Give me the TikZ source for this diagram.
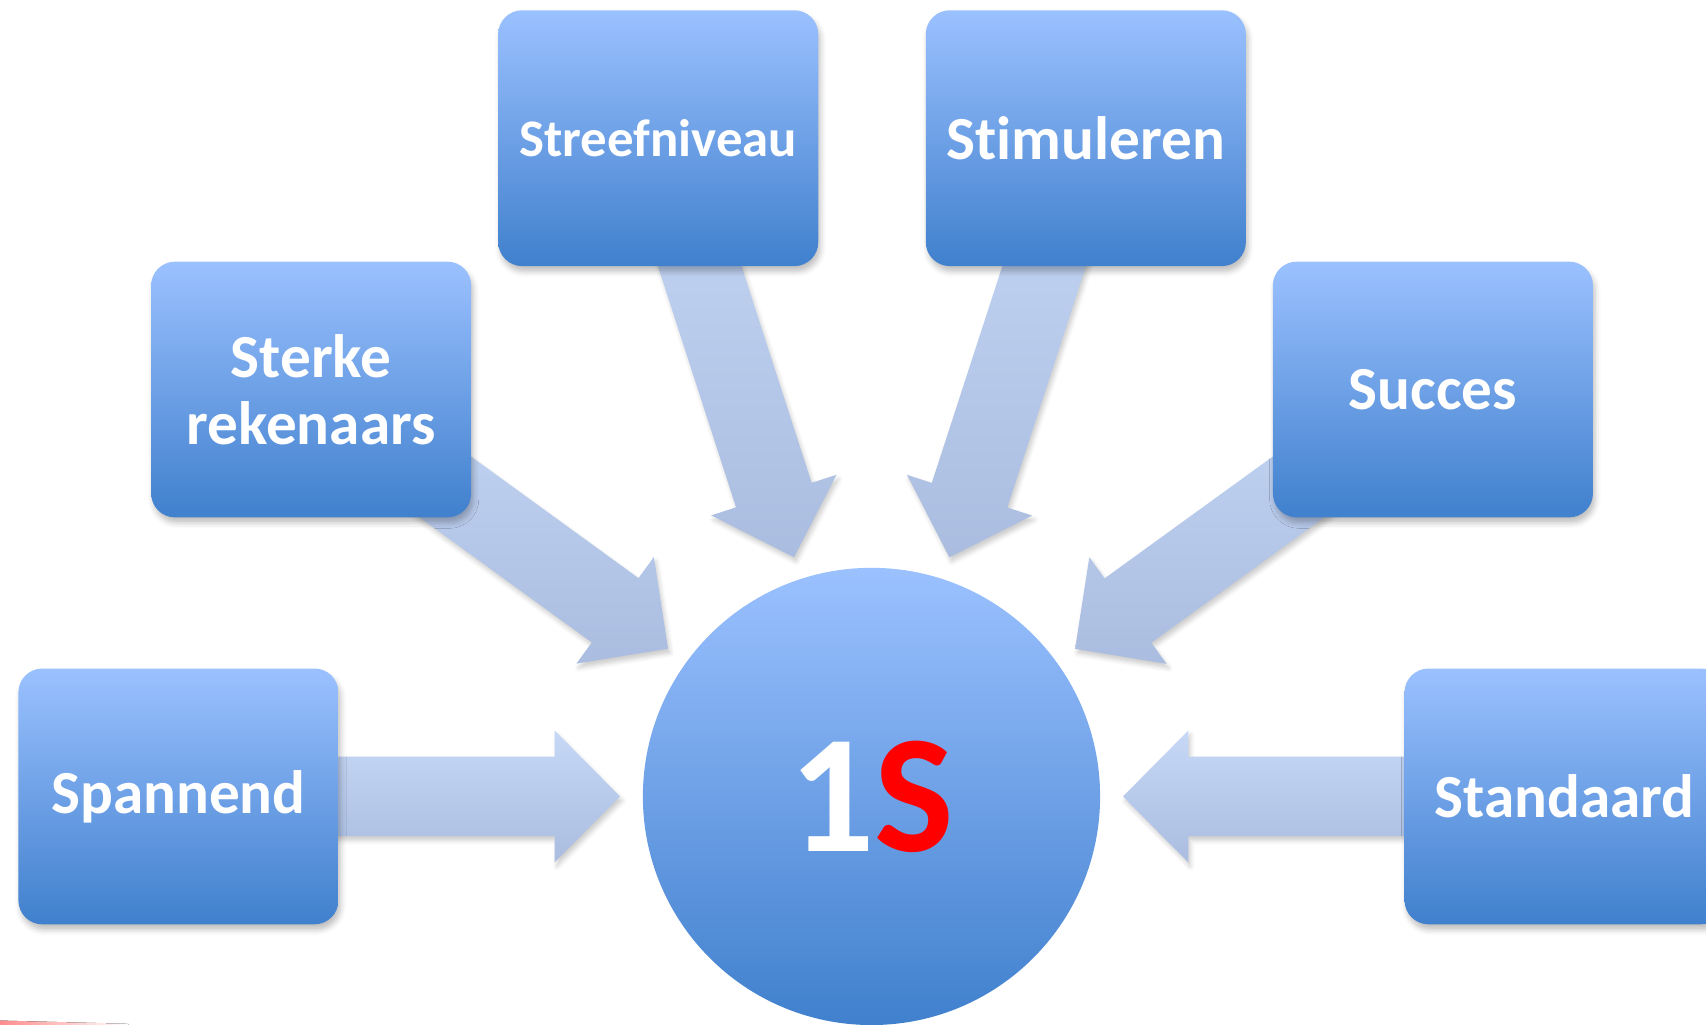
\documentclass[tikz,border=0pt]{standalone}
\usepackage{fontspec}
\setmainfont{Carlito}[Ligatures=NoCommon]
\usetikzlibrary{calc,backgrounds,shadows.blur}

\definecolor{boxtop}{RGB}{155,193,255}
\definecolor{boxbot}{RGB}{64,128,205}
\definecolor{feedtop}{RGB}{198,216,246}
\definecolor{feedbot}{RGB}{170,189,224}

\tikzset{
  box/.style={rectangle, rounded corners=0.22cm, minimum width=2.94cm, minimum height=2.35cm,
    top color=boxtop, bottom color=boxbot, text=white, align=center,
    font=\bfseries\fontsize{16}{17.6}\selectfont,
    blur shadow={shadow xshift=0.02cm, shadow yshift=-0.05cm, shadow blur radius=0.05cm, shadow opacity=25}},
  hub/.style={circle, minimum size=4.2cm, inner sep=0pt, top color=boxtop, bottom color=boxbot,
    text=white, font=\bfseries\fontsize{44}{48}\selectfont},
  feed/.style={top color=feedtop, bottom color=feedbot,
    blur shadow={shadow xshift=0.02cm, shadow yshift=-0.04cm, shadow blur radius=0.04cm, shadow opacity=20}}
}

% block arrow from a box towards the hub
\newcommand{\feedarrow}[1]{%
  \coordinate (t) at ($(hub.center)!2.31cm!(#1.center)$);
  \coordinate (h) at ($(t)!0.6cm!(#1.center)$);
  \path[feed] ($(#1.center)!0.365cm!90:(t)$) -- ($(h)!0.365cm!90:(t)$)
    -- ($(h)!0.605cm!90:(t)$) -- (t) -- ($(h)!0.605cm!-90:(t)$)
    -- ($(h)!0.365cm!-90:(t)$) -- ($(#1.center)!0.365cm!-90:(t)$) -- cycle;}

\begin{document}
\begin{tikzpicture}[x=0.01cm, y=-0.01cm]
    \useasboundingbox (0,0) rectangle (1568,942);
    \clip (0,0) rectangle (1568,942);
    \node[box] (streef) at (605,127) {\fontsize{13.8}{15}\selectfont Streefniveau};
    \node[box] (stimul) at (998,127) {Stimuleren};
    \node[box] (sterke) at (286,358) {Sterke\\rekenaars};
    \node[box] (succes) at (1317,358) {Succes};
    \node[box] (spannend) at (164,732) {Spannend};
    \node[box] (standaard) at (1438,732) {Standaard};
    \node[hub] (hub) at (801,732) {1\textcolor{red}{S}};
    \begin{scope}[on background layer]
        \foreach \b in {spannend,sterke,streef,stimul,succes,standaard}
            \feedarrow{\b};
    \end{scope}
    \fill[left color=red!45, right color=white] (0,938) -- (118,941) -- (118,942) -- (0,942) -- cycle;
\end{tikzpicture}
\end{document}
